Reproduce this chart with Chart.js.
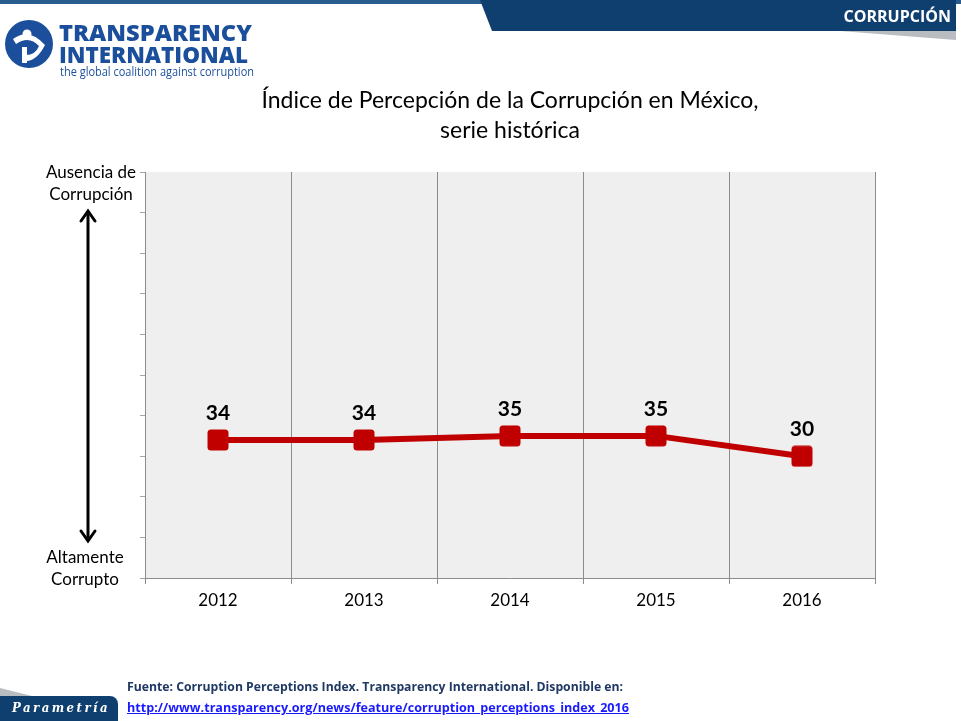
<!DOCTYPE html>
<html>
<head>
<meta charset="utf-8">
<script src="https://cdn.jsdelivr.net/npm/chart.js@4.4.1/dist/chart.umd.min.js"></script>
<style>
  html, body { margin: 0; padding: 0; background: #fff; }
  #page { position: relative; width: 961px; height: 721px; overflow: hidden; font-family: Lato, 'Open Sans', sans-serif; }
  #chartBox { position: absolute; left: 0; top: 0; width: 961px; height: 721px; }
  .abs { position: absolute; white-space: nowrap; }
  .fit { transform-origin: 0 50%; }
  #topband { left: 0; top: 0; width: 961px; height: 4px; background: #2a5d8f; }
  #tab { left: 480px; top: 0; width: 476px; height: 31px; background: #0f3f6e;
         clip-path: polygon(0 0, 100% 0, 100% 100%, 12px 100%); }
  #tabShadow { left: 840px; top: 31px; width: 116px; height: 9px; background: #b9bcc0;
         clip-path: polygon(0 0, 100% 0, 100% 100%); }
  #tabText { right: 10px; top: 5px; color: #fff; font-weight: bold; font-size: 16px; font-family: 'Open Sans', sans-serif; }
  #logo { left: 4px; top: 19px; }
  #ti1, #ti2 { left: 59px; color: #1b4f9c; font-weight: 800; font-size: 22px; font-family: 'Open Sans', sans-serif; line-height: 1; }
  #ti1 { top: 21px; }
  #ti2 { top: 43px; }
  #tag { left: 60px; top: 65px; color: #1b4f9c; font-size: 12px; font-family: 'Open Sans', sans-serif; line-height: 14px; }
  #title { left: 0; width: 1020px; top: 84px; text-align: center; font-size: 23px; line-height: 30px; color: #000; }
  .side { font-size: 17px; color: #000; text-align: center; line-height: 22px; }
  #src { left: 127px; top: 677px; font-size: 13px; font-weight: bold; color: #1f3864; font-family: 'Open Sans', sans-serif; }
  #url { left: 127px; top: 698px; font-size: 13px; font-weight: bold; color: #1a1aff; text-decoration: underline; font-family: 'Open Sans', sans-serif; }
  #badgeShadow { left: 0; top: 688px; width: 40px; height: 10px; background: #b9bcc0; clip-path: polygon(0 0, 100% 100%, 0 100%); }
  #badge { left: 0; top: 696px; width: 118px; height: 25px; background: #0f3f6e; border-top-right-radius: 8px; }
  #badgeText { left: 12px; top: 701px; color: #fff; font-style: italic; font-weight: bold; font-family: 'DejaVu Serif', serif; font-size: 12px; letter-spacing: 2.5px; }
</style>
</head>
<body>
<div id="page">
  <div id="chartBox"><canvas id="myChart"></canvas></div>
  <div class="abs" id="topband"></div>
  <div class="abs" id="tab"></div>
  <div class="abs" id="tabShadow"></div>
  <div class="abs" id="tabText">CORRUPCIÓN</div>
  <svg class="abs" id="logo" width="50" height="50" viewBox="0 0 50 50">
    <circle cx="25" cy="25" r="24" fill="#1b4f9c"/>
    <path d="M9 20 Q25 8 41 26 Q32 44 18 42 L20 36 Q31 37 35 27 Q25 16 12 25 Z" fill="#fff"/>
    <circle cx="23" cy="15" r="4.5" fill="#fff"/>
    <rect x="18" y="28" width="5" height="16" fill="#fff"/>
  </svg>
  <div class="abs fit" id="ti1" data-w="193">TRANSPARENCY</div>
  <div class="abs fit" id="ti2" data-w="189">INTERNATIONAL</div>
  <div class="abs fit" id="tag" data-w="194">the global coalition against corruption</div>
  <div class="abs" id="title">Índice de Percepción de la Corrupción en México,<br>serie histórica</div>
  <div class="abs side" style="left:36px; top:161px; width:110px;">Ausencia de<br>Corrupción</div>
  <div class="abs side" style="left:30px; top:546px; width:110px;">Altamente<br>Corrupto</div>
  <div class="abs fit" id="src" data-w="496">Fuente: Corruption Perceptions Index. Transparency International. Disponible en:</div>
  <div class="abs fit" id="url" data-w="502">http://www.transparency.org/news/feature/corruption_perceptions_index_2016</div>
  <div class="abs" id="badgeShadow"></div>
  <div class="abs" id="badge"></div>
  <div class="abs fit" id="badgeText" data-w="98">Parametría</div>
</div>
<script>
const years = ['2012', '2013', '2014', '2015', '2016']
const cpiScores = [34, 34, 35, 35, 30]
const yTicks = [0, 10, 20, 30, 40, 50, 60, 70, 80, 90, 100]

const lineRed = '#c00000'

// squeeze texts to the widths seen in the picture
document.querySelectorAll('.fit').forEach(el => {
  const w = el.getBoundingClientRect().width
  el.style.transform = 'scaleX(' + (parseFloat(el.dataset.w) / w) + ')'
})

// rounded square marker
const marker = document.createElement('canvas')
marker.width = 22
marker.height = 22
const mctx = marker.getContext('2d')
mctx.fillStyle = lineRed
mctx.beginPath()
mctx.roundRect(0.5, 0.5, 21, 21, 3.5)
mctx.fill()

const plotBackground = {
  id: 'plotBackground',
  beforeDraw(chart) {
    const { ctx, chartArea: a } = chart
    ctx.save()
    ctx.fillStyle = '#efefef'
    ctx.fillRect(a.left, a.top, a.right - a.left, a.bottom - a.top)
    ctx.restore()
  }
}

const valueLabels = {
  id: 'valueLabels',
  afterDatasetsDraw(chart) {
    const ctx = chart.ctx
    const meta = chart.getDatasetMeta(0)
    ctx.save()
    ctx.font = 'bold 21px Lato, sans-serif'
    ctx.fillStyle = '#000'
    ctx.textAlign = 'center'
    ctx.textBaseline = 'middle'
    meta.data.forEach((pt, i) => {
      ctx.fillText(String(cpiScores[i]), pt.x, pt.y - 27)
    })
    ctx.restore()
  }
}

const sideArrow = {
  id: 'sideArrow',
  afterDraw(chart) {
    const ctx = chart.ctx
    const x = 88, top = 210, bottom = 542
    ctx.save()
    ctx.strokeStyle = '#000'
    ctx.lineWidth = 3
    ctx.beginPath()
    ctx.moveTo(x, top + 4)
    ctx.lineTo(x, bottom - 4)
    ctx.stroke()
    ctx.lineCap = 'round'
    ctx.beginPath()
    ctx.moveTo(x - 7, top + 11)
    ctx.lineTo(x, top + 1)
    ctx.lineTo(x + 7, top + 11)
    ctx.moveTo(x - 7, bottom - 11)
    ctx.lineTo(x, bottom - 1)
    ctx.lineTo(x + 7, bottom - 11)
    ctx.stroke()
    ctx.restore()
  }
}

const ctx = document.getElementById('myChart').getContext('2d')
const myChart = new Chart(ctx, {
  type: 'line',
  data: {
    labels: years,
    datasets: [{
      label: 'Índice de Percepción de la Corrupción',
      data: cpiScores,
      borderColor: lineRed,
      backgroundColor: lineRed,
      borderWidth: 6,
      tension: 0,
      pointStyle: marker,
      pointRadius: 11,
      pointHoverRadius: 11
    }]
  },
  options: {
    responsive: true,
    maintainAspectRatio: false,
    animation: false,
    layout: {
      padding: { left: 135, right: 86, top: 172, bottom: 98 }
    },
    plugins: {
      legend: { display: false },
      tooltip: { enabled: false }
    },
    scales: {
      x: {
        type: 'category',
        offset: true,
        grid: {
          offset: true,
          color: '#8c8c8c',
          lineWidth: 1,
          tickLength: 6
        },
        border: { color: '#8c8c8c' },
        ticks: {
          color: '#000',
          padding: 6,
          font: { family: 'Lato, sans-serif', size: 17 }
        },
        afterFit: (s) => { s.height = 45 }
      },
      y: {
        min: 0,
        max: 100,
        afterBuildTicks: (s) => { s.ticks = yTicks.map(v => ({ value: v })) },
        grid: {
          drawOnChartArea: false,
          color: '#a6a6a6',
          tickLength: 5
        },
        border: { color: '#8c8c8c' },
        ticks: { display: false },
        afterFit: (s) => { s.width = 10 }
      }
    }
  },
  plugins: [plotBackground, valueLabels, sideArrow]
})
</script>
</body>
</html>
